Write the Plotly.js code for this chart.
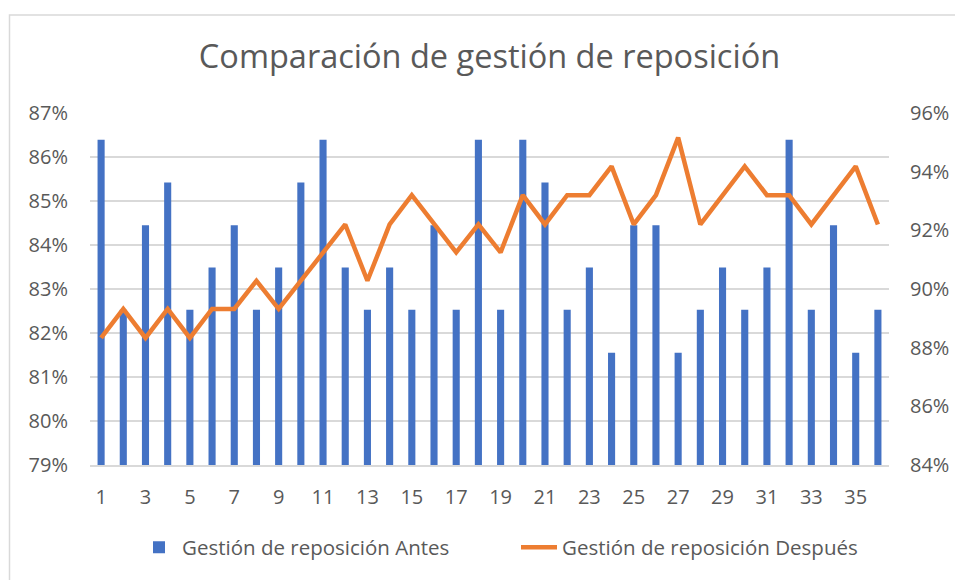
<!DOCTYPE html>
<html>
<head>
<meta charset="utf-8">
<script src="https://cdn.plot.ly/plotly-3.0.1.min.js"></script>
<style>
html,body{margin:0;padding:0;background:#fff;}
#chart{width:955px;height:580px;}
</style>
</head>
<body>
<div id="chart"></div>
<script>
// Data
var periods = [1,2,3,4,5,6,7,8,9,10,11,12,13,14,15,16,17,18,19,20,21,22,23,24,25,26,27,28,29,30,31,32,33,34,35,36];
var antes = [0.8639,0.8253,0.8445,0.8542,0.8253,0.8349,0.8445,0.8253,0.8349,0.8542,
             0.8639,0.8349,0.8253,0.8349,0.8253,0.8445,0.8253,0.8639,0.8253,0.8639,
             0.8542,0.8253,0.8349,0.8155,0.8445,0.8445,0.8155,0.8253,0.8349,0.8253,
             0.8349,0.8639,0.8253,0.8445,0.8155,0.8253];
var despues = [0.8833,0.8932,0.8833,0.8932,0.8833,0.8932,0.8932,0.9028,0.8932,0.9028,
               0.9125,0.9220,0.9028,0.9220,0.9320,0.9220,0.9125,0.9220,0.9125,0.9320,
               0.9220,0.9320,0.9320,0.9418,0.9220,0.9320,0.9516,0.9220,0.9320,0.9418,
               0.9320,0.9320,0.9220,0.9320,0.9418,0.9220];
var xTickVals = [1,3,5,7,9,11,13,15,17,19,21,23,25,27,29,31,33,35];
var seriesNames = ["Gestión de reposición Antes", "Gestión de reposición Después"];
var chartTitle = "Comparación de gestión de reposición";

var FONT = "'Open Sans', Lato, sans-serif";
var TXT = "#595959";
var W = 955, H = 580;
var mL = 90, mR = 66, mT = 113, mB = 113;
var pw = W - mL - mR, ph = H - mT - mB;
function px2x(p){ return (p - mL) / pw; }
function py2y(p){ return (H - mB - p) / ph; }

var traces = [
  {
    type: "bar",
    name: seriesNames[0],
    x: periods,
    y: antes,
    marker: {color: "#4472C4"},
    yaxis: "y",
    hoverinfo: "x+y"
  },
  {
    type: "scatter",
    mode: "lines",
    name: seriesNames[1],
    x: periods,
    y: despues,
    line: {color: "#ED7D31", width: 4.5, shape: "linear"},
    yaxis: "y2",
    hoverinfo: "x+y"
  }
];

var layout = {
  width: W, height: H,
  margin: {l: mL, r: mR, t: mT, b: mB, pad: 0},
  paper_bgcolor: "#ffffff",
  plot_bgcolor: "#ffffff",
  font: {family: FONT, color: TXT, size: 18},
  bargap: 0.68,
  showlegend: true,
  title: {
    text: chartTitle,
    font: {family: FONT, size: 32.5, color: TXT},
    x: 0.5, xref: "paper", xanchor: "center",
    y: 1 - 57 / H, yref: "container", yanchor: "middle"
  },
  xaxis: {
    type: "category",
    tickmode: "array",
    tickvals: xTickVals,
    ticktext: xTickVals.map(String),
    showgrid: false,
    showline: true,
    linecolor: "#D9D9D9",
    linewidth: 1.5,
    ticks: "",
    ticklabelstandoff: 13,
    tickfont: {family: FONT, size: 20, color: TXT},
    zeroline: false,
    fixedrange: true
  },
  yaxis: {
    range: [0.79, 0.87],
    dtick: 0.01,
    tick0: 0.79,
    tickformat: ".0%",
    showgrid: true,
    gridcolor: "#D9D9D9",
    gridwidth: 1.5,
    zeroline: false,
    showline: false,
    ticks: "",
    ticklabelstandoff: 21,
    tickfont: {family: FONT, size: 20, color: TXT},
    fixedrange: true
  },
  yaxis2: {
    range: [0.84, 0.96],
    dtick: 0.02,
    tick0: 0.84,
    tickformat: ".0%",
    overlaying: "y",
    side: "right",
    showgrid: false,
    zeroline: false,
    showline: false,
    ticks: "",
    ticklabelstandoff: 20,
    tickfont: {family: FONT, size: 20, color: TXT},
    fixedrange: true
  },
  legend: {
    orientation: "h",
    x: px2x(136), xanchor: "left",
    y: py2y(550), yanchor: "middle",
    font: {family: FONT, size: 20.5, color: TXT},
    bgcolor: "rgba(0,0,0,0)",
    itemwidth: 36,
    entrywidth: 329,
    entrywidthmode: "pixels"
  },
  shapes: [
    {
      type: "rect", xref: "paper", yref: "paper",
      x0: px2x(9.5), x1: px2x(W + 5),
      y0: py2y(H + 5), y1: py2y(14.5),
      line: {color: "#D9D9D9", width: 1.5},
      fillcolor: "rgba(0,0,0,0)",
      layer: "below"
    }
  ]
};

Plotly.newPlot("chart", traces, layout, {displayModeBar: false, staticPlot: true});
</script>
</body>
</html>
